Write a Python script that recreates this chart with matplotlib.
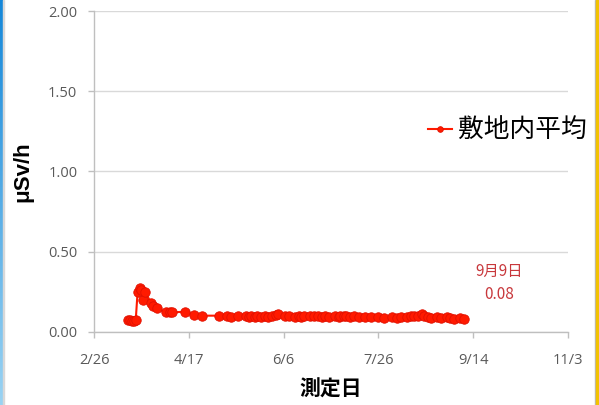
import datetime as dt
import numpy as np
import matplotlib
matplotlib.use("Agg")
import matplotlib.pyplot as plt

# 測定日 (2011) と 敷地内平均 (μSv/h)
fechas = [
    "3/16", "3/17", "3/18", "3/19", "3/20", "3/21", "3/22", "3/23", "3/24", "3/25",
    "3/28", "3/29", "3/31", "4/5", "4/7", "4/8", "4/15", "4/20", "4/24",
    "5/3", "5/7", "5/9", "5/13", "5/17", "5/19", "5/20", "5/22", "5/23", "5/25",
    "5/27", "5/29", "5/31", "6/2", "6/3", "6/7", "6/9", "6/12", "6/14", "6/15",
    "6/17", "6/20", "6/22", "6/24", "6/26", "6/28", "6/30", "7/3", "7/5", "7/6",
    "7/8", "7/9", "7/11", "7/13", "7/16", "7/19", "7/22", "7/26", "7/29", "8/2",
    "8/5", "8/7", "8/10", "8/12", "8/14", "8/16", "8/18", "8/19", "8/21", "8/23",
    "8/26", "8/28", "8/31", "9/2", "9/4", "9/7", "9/9",
]
valores = [
    0.07, 0.07, 0.065, 0.065, 0.07, 0.25, 0.27, 0.26, 0.20, 0.25,
    0.18, 0.16, 0.145, 0.12, 0.12, 0.12, 0.125, 0.105, 0.10,
    0.10, 0.095, 0.09, 0.095, 0.095, 0.09, 0.095, 0.09, 0.095, 0.09,
    0.095, 0.09, 0.10, 0.105, 0.11, 0.095, 0.095, 0.09, 0.095, 0.09,
    0.095, 0.095, 0.10, 0.095, 0.09, 0.095, 0.09, 0.095, 0.09, 0.095,
    0.10, 0.095, 0.09, 0.095, 0.09, 0.09, 0.09, 0.09, 0.085, 0.09,
    0.085, 0.09, 0.09, 0.095, 0.095, 0.10, 0.11, 0.10, 0.09, 0.085,
    0.09, 0.085, 0.09, 0.085, 0.08, 0.085, 0.08,
]
ticks_x = ["2/26", "4/17", "6/6", "7/26", "9/14", "11/3"]
ticks_y = [0.0, 0.5, 1.0, 1.5, 2.0]


def a_fecha(s):
    m, d = s.split("/")
    return dt.date(2011, int(m), int(d))


x = [a_fecha(f) for f in fechas]
xt = [a_fecha(f) for f in ticks_x]

gris_txt = "#595959"
gris_eje = "#bfbfbf"
gris_grid = "#d9d9d9"

fig = plt.figure(figsize=(5.99, 4.05), dpi=100)
ax = fig.add_axes([94 / 599, 73.3 / 405, 474 / 599, 320.7 / 405])

ax.plot(x, valores, color="#ff1a00", linewidth=1.5, marker="o", markersize=6.8,
        markerfacecolor="#ff1a00", markeredgecolor="#e01000", markeredgewidth=0.6,
        label="敷地内平均", zorder=3)

ax.set_xlim(xt[0], xt[-1])
ax.set_ylim(0, 2.0)
ax.set_xticks(xt)
ax.set_xticklabels(ticks_x)
ax.set_yticks(ticks_y)
ax.set_yticklabels([f"{v:.2f}" for v in ticks_y])

ax.grid(axis="y", color=gris_grid, linewidth=1.0)
ax.set_axisbelow(True)
for lado in ["top", "right"]:
    ax.spines[lado].set_visible(False)
for lado in ["left", "bottom"]:
    ax.spines[lado].set_color(gris_eje)
    ax.spines[lado].set_linewidth(1.0)
ax.tick_params(axis="both", colors=gris_eje, length=4, width=1.0,
               labelcolor=gris_txt)
ax.tick_params(axis="x", pad=11)
ax.tick_params(axis="y", pad=8)
for t in ax.get_xticklabels() + ax.get_yticklabels():
    t.set_family(["Open Sans", "DejaVu Sans"])
    t.set_fontsize(10.5)

ax.set_ylabel("μSv/h", family=["Liberation Sans", "DejaVu Sans"], fontsize=16,
              fontweight="bold", color="black")
ax.yaxis.set_label_coords(-61 / 474, 0.5)
ax.set_xlabel("測定日", family=["Noto Sans CJK JP", "DejaVu Sans"], fontsize=15,
              fontweight="bold", color="black", va="center")
ax.xaxis.set_label_coords(0.5, -57 / 320.7)

# 最新値の注記
ax.annotate("9月9日\n0.08", xy=(499 / 599, (405 - 283) / 405), xycoords="figure fraction",
            ha="center", va="center", color="#c8383c", fontsize=11,
            family=["Noto Sans CJK JP", "DejaVu Sans"], linespacing=1.45)

fig.legend(loc="center left", bbox_to_anchor=(428 / 599, (405 - 131) / 405),
           frameon=False, prop={"family": ["Noto Sans CJK JP", "DejaVu Sans"], "size": 18.5},
           handlelength=0.95, handletextpad=0.2, markerscale=0.6,
           borderaxespad=0, borderpad=0)

# 画面の枠 (左の青、右の黄)
borde = fig.add_axes([0, 0, 3 / 599, 1])
grad = np.linspace(0, 1, 256).reshape(-1, 1)
cm = matplotlib.colors.LinearSegmentedColormap.from_list("b", ["#1487d9", "#9ad3f3"])
borde.imshow(grad, aspect="auto", cmap=cm, extent=[0, 1, 0, 1])
borde.axis("off")
fig.patches.append(matplotlib.patches.Rectangle((3 / 599, 0), 1 / 599, 1,
                                                transform=fig.transFigure, color="#d8d8d8"))
fig.patches.append(matplotlib.patches.Rectangle((594.5 / 599, 0), 1.5 / 599, 1,
                                                transform=fig.transFigure, color="#b8b8b8"))
fig.patches.append(matplotlib.patches.Rectangle((596 / 599, 0), 3 / 599, 1,
                                                transform=fig.transFigure, color="#f2c200"))

fig.savefig("out.png", dpi=100)
